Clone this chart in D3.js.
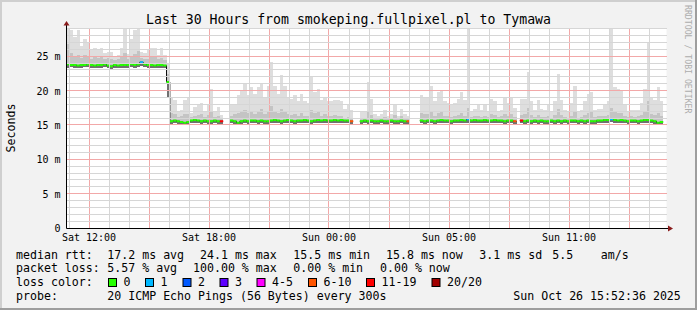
<!DOCTYPE html>
<html>
<head>
<meta charset="utf-8">
<script src="https://cdn.jsdelivr.net/npm/d3@7"></script>
<style>
body { margin: 0; background: #f2f2f2; }
svg { display: block; }
text { font-family: "DejaVu Sans Mono", monospace; fill: #000; }
</style>
</head>
<body>
<script>
// 10 minute samples, 30 hours, one row = 3 hours
const startTime = new Date(Date.UTC(2025, 9, 25, 8, 54));
const endTime = new Date(Date.UTC(2025, 9, 26, 14, 54));
const stepMinutes = 10;

// median rtt (ms), null = no answer
const rttMedian = [
  23.9, 23.8, 23.8, 23.7, 23.8, 23.8, 23.9, 23.8, 23.7, 23.8, 23.8, 23.9, 23.7, 23.6, 23.8, 23.7, 23.8, 23.8,
  23.8, 23.9, 23.8, 23.9, 24.2, 23.9, 23.8, 23.8, 23.7, 23.8, 23.8, 23.7, 21.3, 15.6, 15.7, 15.6, 15.5, 15.4,
  15.5, 15.7, 15.8, 15.7, 15.6, 15.7, 15.6, 15.6, 15.7, 15.6, 15.6, null, null, 15.7, 15.6, 15.4, 15.6, 15.7,
  15.6, 15.7, 15.7, 15.6, 15.7, 15.6, 15.6, 15.7, 15.8, 15.7, 15.6, 15.7, 15.8, 15.7, 15.6, 15.7, 15.7, 15.8,
  15.7, 15.6, 15.7, 15.8, 15.7, 15.8, 15.7, 15.7, 15.8, 15.7, 15.8, 15.7, 15.7, 15.6, null, null, 15.6, 15.7,
  15.6, 15.7, 15.6, 15.6, 15.7, 15.6, 15.6, 15.7, 15.6, 15.6, 15.7, 15.6, 15.6, null, null, null, 15.7, 15.6,
  15.7, 15.7, 15.6, 15.7, 15.8, 15.7, 15.7, 15.6, 15.7, 15.7, 15.8, 15.7, 15.9, 15.7, 15.8, 15.7, 15.7, 15.8,
  15.7, 15.7, 15.8, 15.7, 15.7, 15.6, 15.7, 15.7, 15.6, null, 15.7, 15.6, 15.7, 15.6, 15.7, 15.6, 15.7, 15.6,
  15.6, 15.7, 15.6, 15.7, 15.6, 15.7, 15.6, 15.7, 15.7, 15.6, 15.7, 15.6, 15.7, 15.6, 15.6, 15.7, 15.7, 15.8,
  15.8, 15.9, 15.8, 15.7, 15.8, 15.7, 15.6, 15.7, 15.7, 15.6, 15.7, 15.8, 15.8, 15.7, 15.6, 15.4, 15.5, null
];

// fastest ping (bottom of the smoke)
const rttMin = [
  23.4, 23.5, 23.4, 23.3, 23.4, 23.5, 23.5, 23.4, 23.3, 23.4, 23.4, 23.5, 23.3, 23.2, 23.4, 23.3, 23.4, 23.4,
  23.4, 23.5, 23.4, 23.5, 23.6, 23.5, 23.4, 23.4, 23.3, 23.4, 23.4, 23.3, 19.0, 15.2, 15.3, 15.2, 15.1, 15.0,
  15.1, 15.3, 15.4, 15.3, 15.2, 15.3, 15.2, 15.2, 15.3, 15.2, 15.2, null, null, 15.3, 15.2, 15.0, 15.2, 15.3,
  15.2, 15.3, 15.3, 15.2, 15.3, 15.2, 15.2, 15.3, 15.4, 15.3, 15.2, 15.3, 15.4, 15.3, 15.2, 15.3, 15.3, 15.4,
  15.3, 15.2, 15.3, 15.4, 15.3, 15.4, 15.3, 15.3, 15.4, 15.3, 15.4, 15.3, 15.3, 15.2, null, null, 15.2, 15.3,
  15.2, 15.3, 15.2, 15.2, 15.3, 15.2, 15.2, 15.3, 15.2, 15.2, 15.3, 15.2, 15.2, null, null, null, 15.3, 15.2,
  15.3, 15.3, 15.2, 15.3, 15.4, 15.3, 15.3, 15.2, 15.3, 15.3, 15.4, 15.3, 15.4, 15.3, 15.4, 15.3, 15.3, 15.4,
  15.3, 15.3, 15.4, 15.3, 15.3, 15.2, 15.3, 15.3, 15.2, null, 15.3, 15.2, 15.3, 15.2, 15.3, 15.2, 15.3, 15.2,
  15.2, 15.3, 15.2, 15.3, 15.2, 15.3, 15.2, 15.3, 15.3, 15.2, 15.3, 15.2, 15.3, 15.2, 15.2, 15.3, 15.3, 15.4,
  15.4, 15.5, 15.4, 15.3, 15.4, 15.3, 15.2, 15.3, 15.3, 15.2, 15.3, 15.4, 15.4, 15.3, 15.2, 15.0, 15.1, null
];

// upper part of the dense smoke
const rttUpper = [
  26.8, 25.5, 25.0, 25.3, 24.8, 25.2, 24.9, 24.7, 24.9, 24.8, 25.0, 24.6, 24.8, 24.7, 24.5, 24.6, 24.9, 25.5,
  24.6, 25.0, 25.4, 25.8, 24.8, 24.6, 24.7, 24.9, 25.0, 24.6, 24.8, 24.5, 22.5, 16.8, 16.6, 16.2, 16.3, 16.6,
  16.7, 16.2, 16.4, 16.5, 16.6, 16.2, 16.5, 17.0, 16.2, 16.4, 16.1, null, null, 16.4, 16.6, 16.8, 17.0, 17.3,
  16.8, 17.0, 16.7, 17.1, 17.4, 16.7, 17.0, 17.8, 17.0, 16.8, 17.4, 16.9, 16.6, 16.5, 16.7, 16.4, 16.8, 16.4,
  16.3, 17.2, 16.8, 16.9, 16.4, 16.6, 16.3, 16.4, 16.5, 16.4, 16.3, 16.1, 16.2, 16.0, null, null, 16.0, 16.1,
  17.0, 16.5, 16.0, 16.0, 16.1, 16.2, 16.0, 16.1, 16.5, 16.0, 16.3, 16.1, 16.0, null, null, null, 16.8, 16.7,
  16.6, 17.1, 16.4, 16.8, 16.9, 16.4, 16.3, 16.2, 16.4, 16.5, 16.8, 16.4, 17.5, 16.2, 16.3, 16.4, 16.2, 16.4,
  16.2, 16.6, 16.5, 16.2, 16.3, 16.7, 16.4, 16.6, 16.2, null, 16.5, 16.6, 17.6, 16.5, 16.2, 16.5, 16.2, 16.2,
  16.4, 16.1, 16.5, 17.4, 16.5, 16.2, 16.1, 16.4, 17.0, 16.1, 16.2, 16.5, 16.8, 16.9, 16.2, 16.3, 16.3, 16.4,
  16.5, 17.6, 16.9, 16.8, 16.8, 16.4, 16.2, 16.3, 16.2, 16.3, 16.5, 17.0, 18.5, 16.7, 16.5, 16.8, 16.4, null
];

// slowest ping (top of the smoke)
const rttMax = [
  29.2, 28.9, 27.9, 28.9, 26.5, 27.5, 27.0, 26.0, 26.3, 26.0, 26.3, 25.5, 25.7, 25.7, 25.0, 25.2, 26.3, 29.2,
  25.4, 27.5, 28.9, 29.2, 25.7, 25.5, 26.0, 26.3, 26.3, 25.2, 26.3, 25.2, 23.9, 19.1, 18.7, 16.9, 17.2, 18.7,
  19.0, 16.8, 17.7, 17.9, 18.2, 17.0, 17.9, 20.3, 16.9, 17.7, 16.5, null, null, 17.9, 18.1, 19.4, 20.1, 21.1,
  19.4, 20.6, 19.6, 20.6, 21.1, 19.2, 20.8, 24.2, 20.8, 19.6, 22.3, 20.8, 19.2, 18.9, 19.4, 18.5, 19.6, 18.5,
  18.3, 22.0, 19.9, 20.3, 18.7, 19.2, 18.5, 18.5, 18.7, 18.7, 18.5, 17.4, 17.9, 17.2, null, null, 16.9, 16.9,
  21.3, 18.9, 16.6, 16.4, 16.6, 17.2, 16.4, 16.6, 18.1, 16.4, 17.4, 16.6, 16.4, null, null, null, 19.4, 19.2,
  19.0, 20.8, 18.5, 19.8, 20.1, 18.5, 18.3, 17.9, 18.2, 18.9, 19.8, 18.7, 29.2, 17.0, 17.4, 17.9, 17.2, 17.9,
  17.0, 18.9, 18.5, 17.0, 17.2, 19.2, 18.3, 19.1, 17.5, null, 18.9, 18.9, 22.8, 18.5, 17.2, 18.7, 17.4, 17.2,
  17.9, 17.0, 18.5, 22.5, 18.7, 17.2, 17.0, 18.3, 20.8, 17.0, 17.2, 18.5, 19.6, 19.9, 17.2, 17.4, 17.4, 17.9,
  18.5, 29.2, 20.6, 20.3, 20.1, 17.9, 17.0, 17.2, 17.2, 17.2, 18.3, 20.3, 27.1, 19.2, 18.7, 20.6, 18.5, null
];

// lost pings out of 20
const lossCount = [
  0, 0, 0, 0, 0, 0, 0, 0, 0, 0, 0, 0, 0, 0, 0, 0, 0, 0,
  0, 0, 0, 0, 1, 0, 0, 0, 0, 0, 0, 0, 0, 0, 0, 0, 0, 0,
  0, 0, 0, 0, 0, 0, 0, 0, 0, 0, 12, 20, 20, 0, 0, 0, 0, 0,
  0, 0, 0, 0, 0, 0, 0, 0, 0, 0, 0, 0, 0, 0, 0, 0, 0, 0,
  0, 0, 0, 0, 0, 0, 0, 0, 0, 0, 0, 0, 0, 8, 20, 20, 0, 0,
  0, 0, 0, 0, 0, 0, 0, 0, 0, 0, 0, 0, 7, 20, 20, 20, 0, 0,
  0, 0, 0, 0, 0, 0, 0, 0, 0, 0, 0, 0, 1, 0, 0, 0, 0, 0,
  0, 0, 0, 0, 0, 0, 0, 0, 8, 20, 14, 0, 0, 0, 0, 0, 0, 0,
  0, 0, 0, 0, 0, 0, 0, 0, 0, 0, 0, 0, 0, 0, 0, 0, 0, 0,
  0, 1, 0, 0, 0, 0, 0, 0, 0, 0, 0, 0, 0, 0, 0, 0, 0, 0
];

const lossLabels = ["0", "1", "2", "3", "4-5", "6-10", "11-19", "20/20"];
const lossColors = ["#26ff00", "#00b8ff", "#0059ff", "#5e00ff", "#ff00ff", "#ff5500", "#ff0000", "#a10000"];
const lossLimits = [0, 1, 2, 3, 5, 10, 19, 20];

const tickTimes = [
  new Date(Date.UTC(2025, 9, 25, 10)), new Date(Date.UTC(2025, 9, 25, 16)),
  new Date(Date.UTC(2025, 9, 25, 22)), new Date(Date.UTC(2025, 9, 26, 4)),
  new Date(Date.UTC(2025, 9, 26, 10))
];
const tickLabels = ["Sat 12:00", "Sat 18:00", "Sun 00:00", "Sun 05:00", "Sun 11:00"];
const yTicks = [0, 5, 10, 15, 20, 25];

const titleText = "Last 30 Hours from smokeping.fullpixel.pl to Tymawa";
const rttLegend = ["17.2 ms avg", "24.1 ms max", "15.5 ms min", "15.8 ms now", "3.1 ms sd", "5.5", "am/s"];
const lossLegend = ["5.57 % avg", "100.00 % max", "0.00 % min", "0.00 % now"];
const probeText = "20 ICMP Echo Pings (56 Bytes) every 300s";
const stampText = "Sun Oct 26 15:52:36 2025";

const W = 697, H = 310;
const plotL = 66.5, plotR = 666.5, plotT = 28.5, plotB = 228.5;

const svg = d3.select("body").append("svg")
    .attr("width", W)
    .attr("height", H);
const defs = svg.append("defs");

// background + 3d frame
svg.append("rect").attr("width", W).attr("height", H).attr("fill", "#f2f2f2");
svg.append("rect").attr("x", 0).attr("y", 0).attr("width", W).attr("height", 2).attr("fill", "#cfcfcf");
svg.append("rect").attr("x", 0).attr("y", 0).attr("width", 2).attr("height", H).attr("fill", "#cfcfcf");
svg.append("rect").attr("x", 0).attr("y", H - 2).attr("width", W).attr("height", 2).attr("fill", "#9e9e9e");
svg.append("rect").attr("x", W - 2).attr("y", 0).attr("width", 2).attr("height", H).attr("fill", "#9e9e9e");

const x = d3.scaleTime().domain([startTime, endTime]).range([plotL, plotR]);
const y = d3.scaleLinear().domain([0, 29.1]).range([plotB, plotT]);

svg.append("rect")
    .attr("x", plotL).attr("y", plotT)
    .attr("width", plotR - plotL).attr("height", plotB - plotT)
    .attr("fill", "#fff");

defs.append("clipPath").attr("id", "plot")
    .append("rect")
    .attr("x", plotL).attr("y", plotT)
    .attr("width", plotR - plotL).attr("height", plotB - plotT);

const samples = rttMedian.map((m, i) => ({
    t0: d3.utcMinute.offset(startTime, i * stepMinutes),
    t1: d3.utcMinute.offset(startTime, (i + 1) * stepMinutes),
    med: m,
    lo: rttMin[i],
    up: rttUpper[i],
    hi: rttMax[i],
    loss: lossCount[i]
}));
const valid = samples.filter(d => d.med != null);

const plot = svg.append("g").attr("clip-path", "url(#plot)");

const smoke = function (cls, hiOf, loOf, color) {
    plot.selectAll("rect." + cls)
        .data(valid)
        .enter()
        .append("rect")
        .attr("class", cls)
        .attr("x", d => x(d.t0))
        .attr("width", d => x(d.t1) - x(d.t0))
        .attr("y", d => y(hiOf(d)))
        .attr("height", d => Math.max(0, y(loOf(d)) - y(hiOf(d))))
        .attr("fill", color)
        .attr("shape-rendering", "crispEdges");
};
smoke("s1", d => d.hi, d => d.lo, "#dedede");
smoke("s2", d => d.up, d => d.lo, "#c4c4c4");
smoke("s3", d => d.med, d => d.lo, "#707070");

// grid, drawn as 1px rects so the columns stay on whole pixels
const grid = svg.append("g").attr("shape-rendering", "crispEdges");
const hours = d3.utcHour.range(startTime, endTime);
const minorY = d3.range(1, 30).filter(v => v % 5 !== 0);
const isMajor = h => (h.getUTCHours() + 2) % 3 === 0;

grid.selectAll("rect.vgrid")
    .data(hours)
    .enter().append("rect")
    .attr("class", "vgrid")
    .attr("x", d => Math.round(x(d)))
    .attr("y", 28)
    .attr("width", 1)
    .attr("height", 200)
    .attr("fill", d => isMajor(d) ? "#f2a8a8" : "#d6d6d6");

grid.selectAll("rect.hgrid")
    .data(minorY.concat(yTicks.slice(1)))
    .enter().append("rect")
    .attr("class", "hgrid")
    .attr("x", 67)
    .attr("y", d => Math.round(y(d)) - 1)
    .attr("width", 600)
    .attr("height", 1)
    .attr("fill", d => d % 5 === 0 ? "#f2a8a8" : "#d6d6d6");

// median: thin dark step line, loss coloured on top
const pts = [];
samples.forEach(d => {
    pts.push({t: d.t0, v: d.med});
    pts.push({t: d.t1, v: d.med});
});
const medLine = d3.line()
    .defined(d => d.v != null)
    .x(d => x(d.t))
    .y(d => y(d.v));
plot.append("path")
    .attr("d", medLine(pts))
    .attr("fill", "none")
    .attr("stroke", "#111")
    .attr("stroke-width", 1);

const lossColor = function (n) {
    const k = lossLimits.findIndex(l => n <= l);
    return lossColors[k];
};
plot.selectAll("line.med")
    .data(valid)
    .enter().append("line")
    .attr("class", "med")
    .attr("x1", d => x(d.t0)).attr("x2", d => x(d.t1))
    .attr("y1", d => y(d.med)).attr("y2", d => y(d.med))
    .attr("stroke", d => lossColor(d.loss))
    .attr("stroke-width", 2);

// axes
const yAxis = d3.axisLeft(y)
    .tickValues(yTicks)
    .tickSize(0)
    .tickPadding(6)
    .tickFormat(d => d === 0 ? "0" : d + " m");
const ya = svg.append("g").attr("transform", `translate(${plotL},0)`).call(yAxis);
ya.select(".domain").remove();
ya.selectAll("text").attr("font-family", "DejaVu Sans Mono").attr("font-size", 10).attr("fill", "#000");

const xAxis = d3.axisBottom(x)
    .tickValues(tickTimes)
    .tickSize(0)
    .tickPadding(5)
    .tickFormat((d, i) => tickLabels[i]);
const xa = svg.append("g").attr("transform", `translate(0,${plotB})`).call(xAxis);
xa.select(".domain").remove();
xa.selectAll("text").attr("font-family", "DejaVu Sans Mono").attr("font-size", 10).attr("fill", "#000");

svg.append("line").attr("x1", plotL).attr("x2", plotL).attr("y1", plotB).attr("y2", 24)
    .attr("stroke", "#000");
svg.append("line").attr("x1", plotL).attr("x2", 669).attr("y1", plotB).attr("y2", plotB)
    .attr("stroke", "#000");
svg.append("path").attr("d", `M${plotL - 3},25.5L${plotL + 3},25.5L${plotL},21Z`).attr("fill", "#8a1c1c");
svg.append("path").attr("d", `M668,${plotB - 3}L668,${plotB + 3}L673,${plotB}Z`).attr("fill", "#8a1c1c");

// titles
svg.append("text")
    .attr("x", 348.5).attr("y", 23.5)
    .attr("text-anchor", "middle")
    .attr("font-size", 13.2)
    .text(titleText);

svg.append("text")
    .attr("transform", "translate(14.5,128) rotate(-90)")
    .attr("text-anchor", "middle")
    .attr("font-size", 11.6)
    .text("Seconds");

svg.append("text")
    .attr("transform", "translate(684.5,5) rotate(90)")
    .attr("font-size", 8.2)
    .style("fill", "#adadad")
    .text("RRDTOOL / TOBI OETIKER");

// legend
const leg = svg.append("g").attr("font-size", 11.6);
const row = function (yy, label, items, xs) {
    leg.append("text").attr("x", 16).attr("y", yy).text(label);
    items.forEach((s, i) => {
        leg.append("text").attr("x", xs[i]).attr("y", yy).text(s);
    });
};
row(258.5, "median rtt:", rttLegend, [107.3, 200, 293.3, 386, 479.3, 552.3, 600.7]);
row(272.3, "packet loss:", lossLegend, [107.3, 193, 293.3, 380]);
leg.append("text").attr("x", 16).attr("y", 286).text("loss color:");

const swatchX = [108.5, 145.5, 183, 220, 257, 308.5, 366.5, 432];
lossLabels.forEach((l, i) => {
    leg.append("rect")
        .attr("x", swatchX[i]).attr("y", 278.5)
        .attr("width", 8).attr("height", 8)
        .attr("fill", lossColors[i])
        .attr("stroke", "#000");
    leg.append("text").attr("x", swatchX[i] + 15).attr("y", 286).text(l);
});
leg.append("text").attr("x", 16).attr("y", 299.8).text("probe:");
leg.append("text").attr("x", 107.3).attr("y", 299.8).text(probeText);
leg.append("text").attr("x", 513.3).attr("y", 299.8).text(stampText);
</script>
</body>
</html>
